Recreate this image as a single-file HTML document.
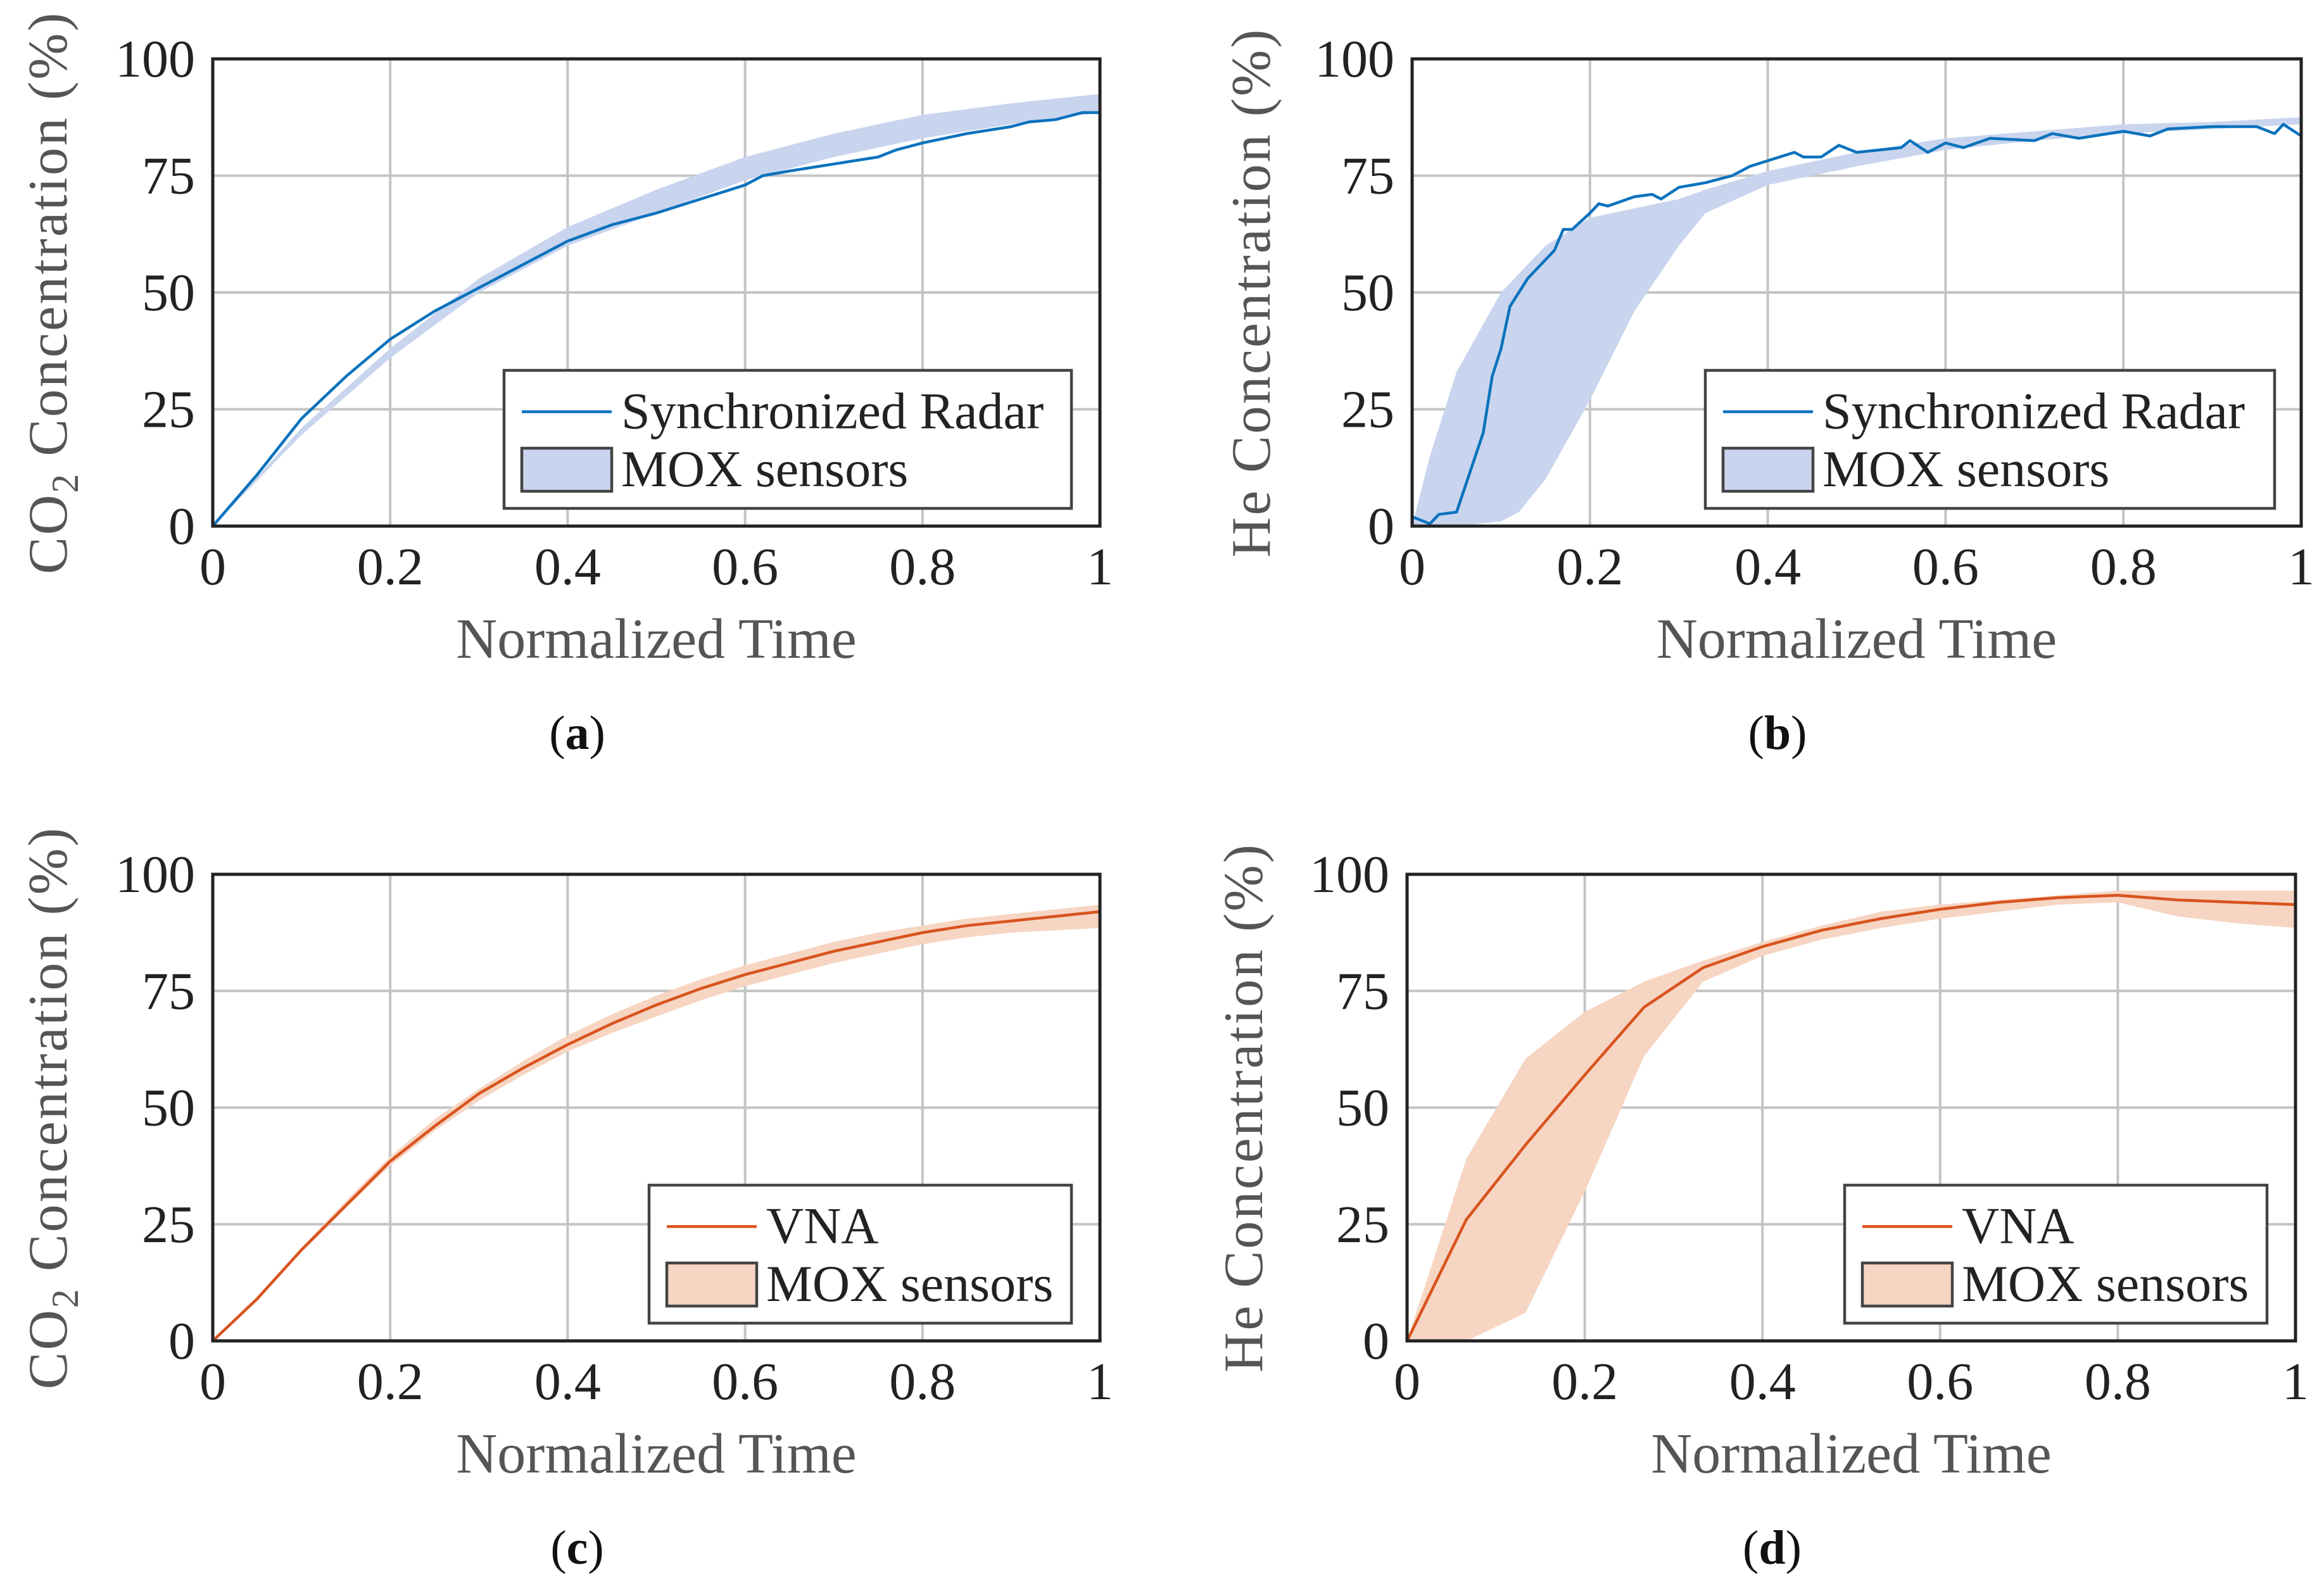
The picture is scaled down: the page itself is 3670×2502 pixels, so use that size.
<!DOCTYPE html>
<html><head><meta charset="utf-8"><style>
html,body{margin:0;padding:0;background:#fff}
svg{display:block}
text{font-family:"Liberation Serif",serif}
</style></head><body>
<svg id="fig" width="3670" height="2502" viewBox="0 0 3670 2502" xmlns="http://www.w3.org/2000/svg"></svg>
<script>
// Panel (a)
const aRadarX=[0,0.05,0.1,0.15,0.2,0.25,0.3,0.35,0.4,0.45,0.5,0.55,0.6,0.62,0.65,0.7,0.75,0.77,0.8,0.85,0.9,0.92,0.95,0.98,1];
const aRadarY=[0,11,23,32,40,46,51,56,61,64.5,67,70,73,75,76,77.5,79,80.5,82,84,85.5,86.5,87,88.5,88.5];
const aBandX=[0,0.1,0.2,0.3,0.4,0.5,0.6,0.7,0.8,0.9,1];
const aBandHi=[0,21,38,53,64,72,79,84,88,90.5,92.5];
const aBandLo=[0,19.5,36,50,60,67,74,79,83,86,88.5];
// Panel (b)
const bRadarX=[0,0.02,0.03,0.05,0.08,0.09,0.1,0.11,0.13,0.16,0.17,0.18,0.2,0.21,0.22,0.25,0.27,0.28,0.3,0.33,0.36,0.38,0.43,0.44,0.46,0.48,0.5,0.55,0.56,0.58,0.6,0.62,0.65,0.7,0.72,0.75,0.8,0.83,0.85,0.9,0.95,0.97,0.98,1];
const bRadarY=[2,0.5,2.5,3,20,32,38,47,53,59,63.5,63.5,67,69,68.5,70.5,71,70,72.5,73.5,75,77,80,79,79,81.5,80,81,82.5,80,82,81,83,82.5,84,83,84.5,83.5,85,85.5,85.5,84,86,83.5];
const bBandX=[0,0.02,0.05,0.1,0.12,0.15,0.2,0.25,0.3,0.33,0.4,0.5,0.6,0.7,0.8,0.9,1];
const bBandHi=[0,15,33,50,54,60,66,68,70,72,76,80,83,84.5,86,86.5,87.5];
const bBandLo=[0,0,0,1,3,10,27,46,60,67,73,77,80.5,82.5,84,85,86];
// Panel (c)
const cX=[0,0.05,0.1,0.15,0.2,0.25,0.3,0.35,0.4,0.45,0.5,0.55,0.6,0.65,0.7,0.75,0.8,0.85,0.9,0.95,1];
const cVna=[0,9,19.5,29,38.5,46,53,58.5,63.5,68,72,75.5,78.5,81,83.5,85.5,87.5,89,90,91,92];
const cBandHi=[0,9.5,20,30,39.5,47.5,54,60,65.5,70,74,77.5,80.5,83,85.5,87.5,89,90.5,91.5,92.5,93.5];
const cBandLo=[0,9,19,28.5,37.5,45,51.5,57,62,66,69.5,73,76,78.5,81,83,85,86.5,87.5,88,88.5];
// Panel (d)
const dX=[0,0.0667,0.1333,0.2,0.2667,0.3333,0.4,0.4667,0.5333,0.6,0.6667,0.7333,0.8,0.8667,0.9333,1];
const dVna=[0,26,42,57,71.5,80,84.5,88,90.5,92.5,94,95,95.5,94.5,94,93.5];
const dBandHi=[0,39,60.5,70.5,77,81.5,85.5,89,92,93.5,94.5,95.5,96.5,96.5,96.5,96.5];
const dBandLo=[0,0,6,32,61,77,82.5,86,88.5,90.5,92,93.5,94,91,89.5,88.5];
const xTicks=["0","0.2","0.4","0.6","0.8","1"];
const yTicks=["0","25","50","75","100"];

const NS="http://www.w3.org/2000/svg";
const svg=document.getElementById('fig');
function mk(tag,attrs,parent,txt){const e=document.createElementNS(NS,tag);for(const k in attrs)e.setAttribute(k,attrs[k]);if(txt!==undefined)e.textContent=txt;(parent||svg).appendChild(e);return e;}

function panel(cfg){
  const g=mk('g',{});
  
  
  const {L,R,T,B}=cfg;
  const sx=v=>L+v*(R-L), sy=v=>B-v/100*(B-T);
  xTicks.forEach((t,i)=>{const v=parseFloat(t);
    const l=mk('line',{x1:sx(v),x2:sx(v),y1:T,y2:B,stroke:'#c4c4c4','stroke-width':4},g);
    
    const tx=mk('text',{x:sx(v),y:B+92,'font-size':84,fill:'#222','text-anchor':'middle'},g,t);
    
  });
  yTicks.forEach(t=>{const v=parseFloat(t);
    const l=mk('line',{x1:L,x2:R,y1:sy(v),y2:sy(v),stroke:'#c4c4c4','stroke-width':4},g);
    
    const tx=mk('text',{x:L-28,y:sy(v)+28,'font-size':84,fill:'#222','text-anchor':'end'},g,t);
    
  });
  let d='M'+cfg.bx.map((x,i)=>sx(x)+','+sy(cfg.hi[i])).join(' L');
  for(let i=cfg.bx.length-1;i>=0;i--) d+=' L'+sx(cfg.bx[i])+','+sy(cfg.lo[i]);
  const band=mk('path',{d:d+'Z',fill:cfg.bandColor,stroke:'none'},g);
  
  const line=mk('polyline',{points:cfg.lx.map((x,i)=>sx(x)+','+sy(cfg.ly[i])).join(' '),fill:'none',stroke:cfg.lineColor,'stroke-width':4.5,'stroke-linejoin':'round'},g);
  
  const fr=mk('rect',{x:L,y:T,width:R-L,height:B-T,fill:'none',stroke:'#222','stroke-width':5},g);
  
  const lg=mk('g',{},g);
  
  const {lx1,ly1,lx2,ly2}=cfg.leg;
  mk('rect',{x:lx1,y:ly1,width:lx2-lx1,height:ly2-ly1,fill:'#fff',stroke:'#444','stroke-width':4.5},lg);
  const r1=ly1+(ly2-ly1)*0.3, r2=ly1+(ly2-ly1)*0.72;
  mk('line',{x1:lx1+28,x2:lx1+170,y1:r1,y2:r1,stroke:cfg.lineColor,'stroke-width':4.5},lg);
  const e1=mk('text',{x:lx1+185,y:r1+26,'font-size':82,fill:'#222'},lg,cfg.lineLabel);
  
  mk('rect',{x:lx1+28,y:r2-34,width:142,height:68,fill:cfg.bandColor,stroke:'#444','stroke-width':4.5},lg);
  const e2=mk('text',{x:lx1+185,y:r2+26,'font-size':82,fill:'#222'},lg,'MOX sensors');
  
  const xl=mk('text',{x:(L+R)/2,y:B+208,'font-size':90,fill:'#555','text-anchor':'middle'},g,'Normalized Time');
  
  const cy=(T+B)/2, cxp=cfg.ylx;
  const yl=mk('text',{x:cxp,y:cy,'font-size':88,fill:'#555','text-anchor':'middle','letter-spacing':3,transform:`rotate(-90 ${cxp} ${cy})`},g);
  
  if(cfg.co2){yl.textContent='CO';mk('tspan',{'font-size':60,dy:18},yl,'2');mk('tspan',{dy:-18},yl,' Concentration (%)');}
  else yl.textContent='He Concentration (%)';
  const cap=mk('text',{x:(L+R)/2-125,y:B+352,'font-size':76,fill:'#111','text-anchor':'middle'},g);
  
  cap.textContent='(';mk('tspan',{'font-weight':'bold'},cap,cfg.cap);mk('tspan',{},cap,')');
}
const blue='#0b72bd', blueBand='#c9d5ee', org='#d9531e', orgBand='#f6d5c2';
panel({name:'panel-a',L:336,R:1737,T:93,B:831,bx:aBandX,hi:aBandHi,lo:aBandLo,lx:aRadarX,ly:aRadarY,bandColor:blueBand,lineColor:blue,lineName:'synchronized-radar-line',lineLabel:'Synchronized Radar',leg:{lx1:796,ly1:585,lx2:1692,ly2:803},ylx:105,co2:true,cap:'a'});
panel({name:'panel-b',L:2230,R:3634,T:93,B:831,bx:bBandX,hi:bBandHi,lo:bBandLo,lx:bRadarX,ly:bRadarY,bandColor:blueBand,lineColor:blue,lineName:'synchronized-radar-line',lineLabel:'Synchronized Radar',leg:{lx1:2693,ly1:585,lx2:3592,ly2:803},ylx:2005,co2:false,cap:'b'});
panel({name:'panel-c',L:336,R:1737,T:1381,B:2118,bx:cX,hi:cBandHi,lo:cBandLo,lx:cX,ly:cVna,bandColor:orgBand,lineColor:org,lineName:'vna-line',lineLabel:'VNA',leg:{lx1:1025,ly1:1872,lx2:1692,ly2:2090},ylx:105,co2:true,cap:'c'});
panel({name:'panel-d',L:2222,R:3625,T:1381,B:2118,bx:dX,hi:dBandHi,lo:dBandLo,lx:dX,ly:dVna,bandColor:orgBand,lineColor:org,lineName:'vna-line',lineLabel:'VNA',leg:{lx1:2913,ly1:1872,lx2:3580,ly2:2090},ylx:1993,co2:false,cap:'d'});
</script>
</body></html>
